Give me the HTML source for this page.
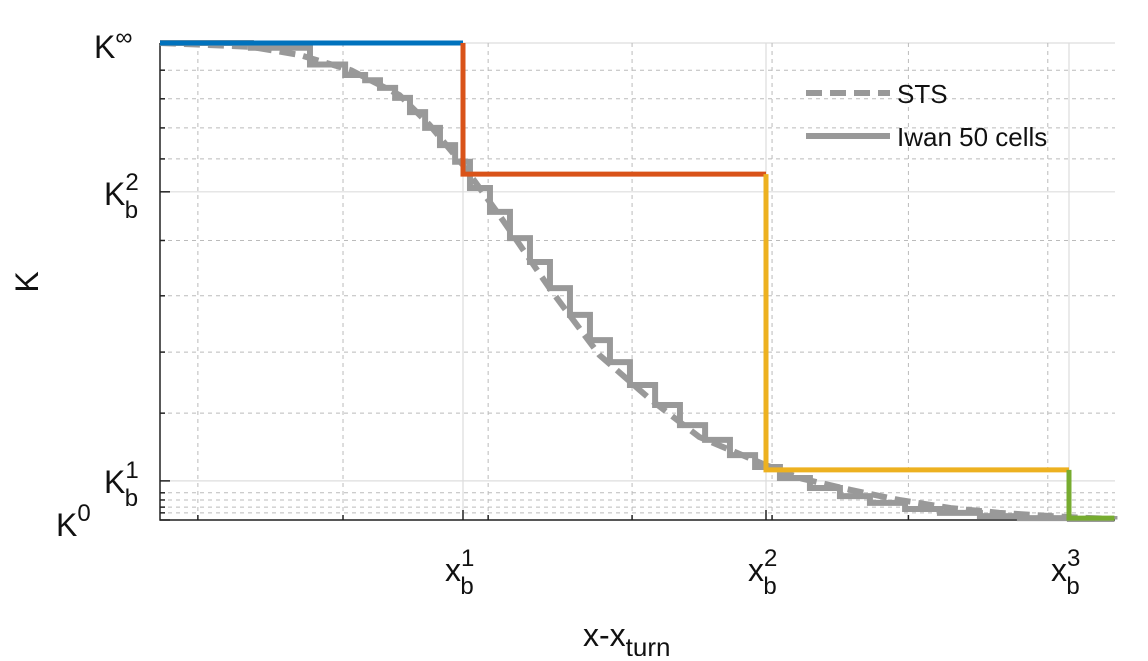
<!DOCTYPE html>
<html><head><meta charset="utf-8"><style>
body{margin:0;background:#fff;}
svg text{font-family:"Liberation Sans",sans-serif;fill:#111;}
</style></head><body>
<svg id="chart" width="1148" height="656" viewBox="0 0 1148 656">
<g id="grid"></g>
<g id="axes"></g>
<g id="series"></g>
<g font-size="32">
<text x="94" y="58">K<tspan dy="-13" font-size="24">∞</tspan></text>
<text x="104" y="205">K<tspan dy="-15" font-size="24">2</tspan><tspan dx="-14" dy="28" font-size="24">b</tspan></text>
<text x="104" y="493">K<tspan dy="-15" font-size="24">1</tspan><tspan dx="-14" dy="28" font-size="24">b</tspan></text>
<text x="56" y="536">K<tspan dy="-15" font-size="24">0</tspan></text>
</g>
<g font-size="32">
<text x="445" y="581">x<tspan dy="-15" font-size="24">1</tspan><tspan dx="-14" dy="28" font-size="24">b</tspan></text>
<text x="748" y="581">x<tspan dy="-15" font-size="24">2</tspan><tspan dx="-14" dy="28" font-size="24">b</tspan></text>
<text x="1051" y="581">x<tspan dy="-15" font-size="24">3</tspan><tspan dx="-14" dy="28" font-size="24">b</tspan></text>
</g>
<text x="583" y="646" font-size="32">x-x<tspan dy="10" font-size="26">turn</tspan></text>
<text x="0" y="0" font-size="32" transform="translate(38,282) rotate(-90)" text-anchor="middle">K</text>
<g font-size="26">
<line x1="806" y1="93" x2="890" y2="93" stroke="#999" stroke-width="6" stroke-dasharray="16,8"/>
<text x="897" y="103">STS</text>
<line x1="806" y1="136" x2="890" y2="136" stroke="#999" stroke-width="6"/>
<text x="897" y="146">Iwan 50 cells</text>
</g>
</svg>
<script>
const stsX=[0,0.3,0.46,0.63,0.79,0.89,1.0,1.12,1.29,1.45,1.62,1.78,2.0,2.11,2.28,2.44,2.61,2.77,3.0,3.15];
const stsK=[1,0.992,0.975,0.943,0.891,0.828,0.744,0.639,0.482,0.346,0.252,0.174,0.115,0.088,0.063,0.042,0.025,0.015,0.006,0.002];
const iwanX=[0,0.3,0.495,0.611,0.677,0.726,0.776,0.825,0.875,0.924,0.974,1.023,1.089,1.155,1.221,1.287,1.353,1.419,1.485,1.551,1.634,1.716,1.799,1.881,1.964,2.046,2.145,2.244,2.343,2.459,2.574,2.706,2.838,3.003,3.15];
const iwanK=[1,0.99,0.955,0.933,0.922,0.906,0.885,0.855,0.822,0.786,0.751,0.696,0.646,0.591,0.541,0.486,0.430,0.377,0.331,0.283,0.241,0.199,0.168,0.136,0.111,0.088,0.067,0.050,0.036,0.023,0.015,0.008,0.004,0.002,0.001];
const stageX=[0,1,2,3,3.15];
const stageK=[1,0.725,0.105,0.004];
const stageColors=["#0072BD","#D95319","#EDB120","#77AC30"];
const yMajorK=[1,0.688,0.082,0];
const yMinorK=[0.943,0.883,0.822,0.757,0.586,0.470,0.352,0.224,0.057,0.042,0.027,0.015];
const xMajor=[1,2,3];
const xMinor=[0.125,0.604,1.083,1.558,2.02,2.47,2.93];
const X0=160,X1=1115,Y0=520,Y1=43;
const sx=v=>X0+v*303;
const sy=k=>Y0-k*(Y0-Y1);
const NS="http://www.w3.org/2000/svg";
function mk(tag,attrs,parent){const e=document.createElementNS(NS,tag);for(const k in attrs)e.setAttribute(k,attrs[k]);parent.appendChild(e);return e;}
const grid=document.getElementById('grid'),axes=document.getElementById('axes'),ser=document.getElementById('series');
yMinorK.forEach(k=>{const l=mk('line',{x1:X0,x2:X1,y1:sy(k),y2:sy(k),stroke:'#bbb','stroke-width':1,'stroke-dasharray':'4,4'},grid);


const t=mk('line',{x1:X0,x2:X0+5,y1:sy(k),y2:sy(k),stroke:'#222','stroke-width':1.5},axes);

});
yMajorK.forEach(k=>{const l=mk('line',{x1:X0,x2:X1,y1:sy(k),y2:sy(k),stroke:'#ddd','stroke-width':1.2},grid);


const t=mk('line',{x1:X0,x2:X0+10,y1:sy(k),y2:sy(k),stroke:'#222','stroke-width':1.5},axes);

});
xMinor.forEach(v=>{const l=mk('line',{x1:sx(v),x2:sx(v),y1:Y1,y2:Y0,stroke:'#bbb','stroke-width':1,'stroke-dasharray':'4,4'},grid);


const t=mk('line',{x1:sx(v),x2:sx(v),y1:Y0,y2:Y0-5,stroke:'#222','stroke-width':1.5},axes);

});
xMajor.forEach(v=>{const l=mk('line',{x1:sx(v),x2:sx(v),y1:Y1,y2:Y0,stroke:'#ddd','stroke-width':1.2},grid);


const t=mk('line',{x1:sx(v),x2:sx(v),y1:Y0,y2:Y0-10,stroke:'#222','stroke-width':1.5},axes);

});
const ax=mk('path',{d:`M${X0},${Y1} V${Y0} H${X1}`,fill:'none',stroke:'#222','stroke-width':1.5},axes);


const sts=mk('polyline',{points:stsX.map((x,i)=>sx(x)+','+sy(stsK[i])).join(' '),fill:'none',stroke:'#999','stroke-width':6,'stroke-dasharray':'16,8','stroke-linejoin':'round'},ser);


let pts=[[sx(iwanX[0]),sy(iwanK[0])]];
for(let i=1;i<iwanX.length;i++){pts.push([sx(iwanX[i]),sy(iwanK[i-1])]);pts.push([sx(iwanX[i]),sy(iwanK[i])]);}
const iw=mk('polyline',{points:pts.map(p=>p.join(',')).join(' '),fill:'none',stroke:'#999','stroke-width':6},ser);


for(let i=0;i<stageK.length;i++){
 const prev=i===0?stageK[0]:stageK[i-1];
 const d=`M${sx(stageX[i])},${sy(prev)} V${sy(stageK[i])} H${sx(stageX[i+1])}`;
 const p=mk('path',{d:d,fill:'none',stroke:stageColors[i],'stroke-width':5},ser);
 
 
}
</script>
</body></html>
